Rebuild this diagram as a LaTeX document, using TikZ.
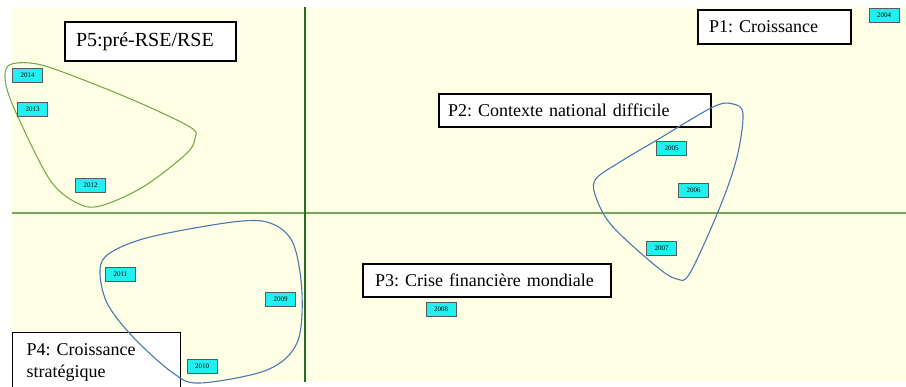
\documentclass[tikz,border=0pt]{standalone}
\usepackage{fontspec}
\setmainfont{Liberation Serif}
\frenchspacing
\begin{document}
\begin{tikzpicture}[x=1pt,y=-1pt,
  tag/.style={draw=gray!70!black, fill=tagcyan, line width=0.8pt, minimum width=30pt, minimum height=14pt, inner sep=0pt, font=\fontsize{7}{7}\selectfont},
  pbox/.style={draw=black, fill=white, line width=1.2pt, inner xsep=11pt, inner ysep=0pt, align=left, font=\fontsize{18}{22}\selectfont}]
\definecolor{bgyellow}{HTML}{FFFFE6}
\definecolor{axisv}{HTML}{1F6F1F}
\definecolor{axish}{HTML}{73A857}
\definecolor{lgreen}{HTML}{77AC46}
\definecolor{lblue}{HTML}{4A78B0}
\definecolor{tagcyan}{HTML}{22F0F0}
\useasboundingbox (0,0) rectangle (906,387);
\clip (0,0) rectangle (906,387);
% background
\fill[bgyellow] (12,7) rectangle (906,381);
% axes
\coordinate (vt) at (305,7);
\coordinate (vb) at (305,382);
\coordinate (hl) at (12,213);
\coordinate (hr) at (906,213);
\draw[axish, line width=2.2pt] (hl) -- (hr);
\draw[axisv, line width=1.6pt] (vt) -- (vb);
% boxes
\node[pbox, minimum width=171pt, minimum height=39pt, text width=149pt, font=\fontsize{20}{24}\selectfont] (p5) at (150.5,41.5) {P5:pré-RSE/RSE};
\node[pbox, minimum width=153pt, minimum height=34pt, text width=131pt] (p1) at (774.5,27) {P1: Croissance};
\node[pbox, minimum width=272pt, minimum height=33pt, text width=254pt, inner xsep=9pt] (p2) at (575,110.5) {P2: Contexte national difficile};
\node[pbox, minimum width=248pt, minimum height=33pt, text width=224pt, inner xsep=12pt] (p3) at (487,280.5) {P3: Crise financière mondiale};
\node[pbox, anchor=north west, minimum width=168pt, minimum height=60pt, text width=140pt, inner xsep=14pt, inner ysep=5pt] (p4) at (12,332) {P4: Croissance\\stratégique};
% loops
\draw[lgreen, line width=1.1pt] plot[smooth cycle, tension=0.55] coordinates {(8,66) (30,63) (60,71) (133,100) (190,127) (195,138) (186,154) (143,187) (100,206) (77,203) (50,180) (18,117) (6,85)};
\draw[lblue, line width=1.1pt] plot[smooth cycle, tension=0.55] coordinates {(595,180) (620,162) (657,140) (713,107) (733,104) (743,114) (737,157) (720,207) (690,273) (677,279) (657,267) (613,227) (597,200)};
\draw[lblue, line width=1.1pt] plot[smooth cycle, tension=0.55] coordinates {(100,270) (110,253) (150,237) (233,222) (270,223) (293,243) (302,293) (297,343) (267,370) (200,383) (173,373) (133,337) (107,303)};
% year tags
\node[tag] (y2004) at (884,15) {2004};
\node[tag] (y2014) at (27.5,75) {2014};
\node[tag] (y2013) at (32.5,109.5) {2013};
\node[tag] (y2012) at (90.5,185) {2012};
\node[tag] (y2005) at (671.5,148.5) {2005};
\node[tag] (y2006) at (693.5,190.5) {2006};
\node[tag] (y2007) at (661.5,248.5) {2007};
\node[tag] (y2011) at (120.5,274.5) {2011};
\node[tag] (y2009) at (280.5,299.5) {2009};
\node[tag] (y2010) at (202,366) {2010};
\node[tag] (y2008) at (441,309.5) {2008};
\end{tikzpicture}
\end{document}
